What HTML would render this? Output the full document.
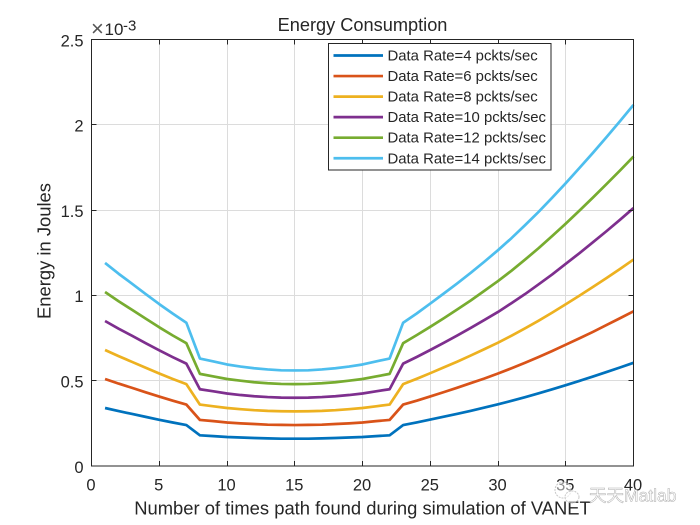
<!DOCTYPE html>
<html>
<head>
<meta charset="utf-8">
<style>
html,body{margin:0;padding:0;background:#fff;width:700px;height:525px;overflow:hidden}
svg{display:block}
text{font-family:"Liberation Sans",Arial,sans-serif;fill:#262626}
</style>
</head>
<body>
<svg id="chart" width="700" height="525" viewBox="0 0 700 525" xmlns="http://www.w3.org/2000/svg">
  <rect x="0" y="0" width="700" height="525" fill="#fff"/>
  <g id="grid"></g>
  <g id="lines"></g>
  <g id="axes"></g>
  <g id="legend"></g>
  <g opacity="0.8">
    <ellipse cx="563" cy="490" rx="8" ry="8" fill="#fff" fill-opacity="0.6" stroke="#bbb" stroke-width="1" stroke-dasharray="2 1"/>
    <ellipse cx="572" cy="497" rx="7" ry="6" fill="#fff" fill-opacity="0.6" stroke="#bbb" stroke-width="1" stroke-dasharray="2 1"/>
    <text x="589" y="501.5" font-size="17.5" style="font-family:'Liberation Sans','Noto Sans CJK SC',sans-serif;fill:#fff;stroke:#999;stroke-width:0.5px">天天Matlab</text>
  </g>
</svg>
<script>
var xDomain = [0, 40];
var yDomain = [0, 2.5];
var xTicks = [0, 5, 10, 15, 20, 25, 30, 35, 40];
var yTicks = [0, 0.5, 1, 1.5, 2, 2.5];
var yTickLabels = ['0', '0.5', '1', '1.5', '2', '2.5'];
var pathCounts = [1,2,3,4,5,6,7,8,9,10,11,12,13,14,15,16,17,18,19,20,21,22,23,24,25,26,27,28,29,30,31,32,33,34,35,36,37,38,39,40];
var rate4 = [.340,.322,.305,.288,.271,.255,.240,.180,.175,.170,.167,.164,.162,.160,.160,.160,.162,.164,.167,.170,.175,.180,.240,.2555,.272,.2888,.306,.3238,.3423,.3613,.3818,.4033,.4258,.4493,.4738,.4988,.5243,.5505,.5773,.6048];
var rate6 = [.510,.483,.458,.432,.407,.383,.360,.270,.263,.255,.250,.246,.242,.241,.240,.241,.242,.246,.250,.255,.263,.270,.360,.383,.408,.433,.459,.486,.513,.542,.573,.605,.639,.674,.711,.748,.786,.826,.866,.907];
var rate8 = [.680,.644,.610,.576,.542,.510,.480,.360,.350,.340,.333,.327,.323,.321,.320,.321,.323,.327,.333,.340,.350,.360,.480,.511,.544,.578,.612,.648,.685,.723,.764,.807,.852,.899,.948,.998,1.049,1.101,1.155,1.210];
var rate10 = [.850,.805,.763,.720,.678,.638,.600,.450,.438,.425,.416,.409,.404,.401,.400,.401,.404,.409,.416,.425,.438,.450,.600,.639,.680,.722,.765,.810,.856,.903,.955,1.008,1.065,1.123,1.185,1.247,1.311,1.376,1.443,1.512];
var rate12 = [1.020,.966,.915,.864,.813,.765,.720,.540,.525,.510,.500,.491,.485,.481,.480,.481,.485,.491,.500,.510,.525,.540,.720,.767,.816,.866,.918,.971,1.027,1.084,1.145,1.210,1.277,1.348,1.421,1.496,1.573,1.652,1.732,1.814];
var rate14 = [1.190,1.127,1.068,1.008,.949,.893,.840,.630,.613,.595,.583,.573,.566,.561,.560,.561,.566,.573,.583,.595,.613,.630,.840,.894,.952,1.011,1.071,1.133,1.198,1.265,1.336,1.412,1.490,1.573,1.658,1.746,1.835,1.927,2.021,2.117];
var seriesValues = [rate4, rate6, rate8, rate10, rate12, rate14];
var seriesLabels = ['Data Rate=4 pckts/sec', 'Data Rate=6 pckts/sec', 'Data Rate=8 pckts/sec', 'Data Rate=10 pckts/sec', 'Data Rate=12 pckts/sec', 'Data Rate=14 pckts/sec'];
var seriesNames = ['rate-4', 'rate-6', 'rate-8', 'rate-10', 'rate-12', 'rate-14'];
var seriesColors = ['#0072bd', '#d95319', '#edb120', '#7e2f8e', '#77ac30', '#4dbeee'];

var NS = 'http://www.w3.org/2000/svg';
var L = 91.5, R = 633.5, T = 39.5, B = 466;
var INK = '#262626';
function sx(v) { return L + (v - xDomain[0]) / (xDomain[1] - xDomain[0]) * (R - L); }
function sy(v) { return B - (v - yDomain[0]) / (yDomain[1] - yDomain[0]) * (B - T); }
function mk(tag, attrs, parent, txt) {
  var el = document.createElementNS(NS, tag);
  for (var k in attrs) el.setAttribute(k, attrs[k]);
  if (txt !== undefined) el.textContent = txt;
  parent.appendChild(el);
  return el;
}
var gridG = document.getElementById('grid');
var linesG = document.getElementById('lines');
var axesG = document.getElementById('axes');
var legendG = document.getElementById('legend');

xTicks.forEach(function (t) {
  var x = Math.round(sx(t) - 0.5) + 0.5;
  if (t !== xDomain[0] && t !== xDomain[1]) {
    var g = mk('line', {x1: x, x2: x, y1: T, y2: B, stroke: '#dcdcdc', 'stroke-width': 1}, gridG);
    
    
    var t1 = mk('line', {x1: x, x2: x, y1: B, y2: B - 5, stroke: INK, 'stroke-width': 1}, axesG);
    
    
    var t2 = mk('line', {x1: x, x2: x, y1: T, y2: T + 5, stroke: INK, 'stroke-width': 1}, axesG);
    
    
  }
  var lab = mk('text', {x: sx(t) - 0.5, y: 490.5, 'font-size': 16.5, 'text-anchor': 'middle'}, axesG, String(t));
  
  
});
yTicks.forEach(function (t, i) {
  var y = Math.round(sy(t) - 0.5) + 0.5;
  if (t !== yDomain[0] && t !== yDomain[1]) {
    var g = mk('line', {x1: L, x2: R, y1: y, y2: y, stroke: '#dcdcdc', 'stroke-width': 1}, gridG);
    
    
    var t1 = mk('line', {x1: L, x2: L + 5, y1: y, y2: y, stroke: INK, 'stroke-width': 1}, axesG);
    
    
    var t2 = mk('line', {x1: R, x2: R - 5, y1: y, y2: y, stroke: INK, 'stroke-width': 1}, axesG);
    
    
  }
  var lab = mk('text', {x: 83.5, y: sy(t) + 6.8, 'font-size': 16.5, 'text-anchor': 'end'}, axesG, yTickLabels[i]);
  
  
});

seriesValues.forEach(function (vals, i) {
  var pts = vals.map(function (v, j) { return sx(pathCounts[j]).toFixed(2) + ',' + sy(v).toFixed(2); }).join(' ');
  var pl = mk('polyline', {points: pts, fill: 'none', stroke: seriesColors[i], 'stroke-width': 2.7, 'stroke-linejoin': 'round'}, linesG);
  
  
});

var box = mk('rect', {x: L, y: T, width: R - L, height: B - T, fill: 'none', stroke: INK, 'stroke-width': 1}, axesG);



var title = mk('text', {x: 362.5, y: 31, 'font-size': 18.2, 'text-anchor': 'middle'}, axesG, 'Energy Consumption');


var xTitle = mk('text', {x: 362.5, y: 514.5, 'font-size': 18.4, 'text-anchor': 'middle'}, axesG, 'Number of times path found during simulation of VANET');


var yTitle = mk('text', {x: 0, y: 0, 'font-size': 18.4, 'text-anchor': 'middle', transform: 'translate(50.5,251) rotate(-90)'}, axesG, 'Energy in Joules');



var expoX = mk('text', {x: 91, y: 36, 'font-size': 22, style: 'fill:#555'}, axesG, '×');


var expo = mk('text', {x: 104.5, y: 35, 'font-size': 17}, axesG, '10');


var expoPow = mk('text', {x: 123, y: 30.5, 'font-size': 15}, axesG, '-3');



var legBox = mk('rect', {x: 328.5, y: 43.5, width: 222.5, height: 126.5, fill: '#fff', stroke: INK, 'stroke-width': 1}, legendG);


seriesLabels.forEach(function (s, i) {
  var y = 55.5 + i * 20.55;
  var sw = mk('line', {x1: 333.5, x2: 383, y1: y, y2: y, stroke: seriesColors[i], 'stroke-width': 2.7}, legendG);
  
  
  var lb = mk('text', {x: 387.5, y: y + 5, 'font-size': 14.9}, legendG, s);
  
  
});
</script>
</body>
</html>
